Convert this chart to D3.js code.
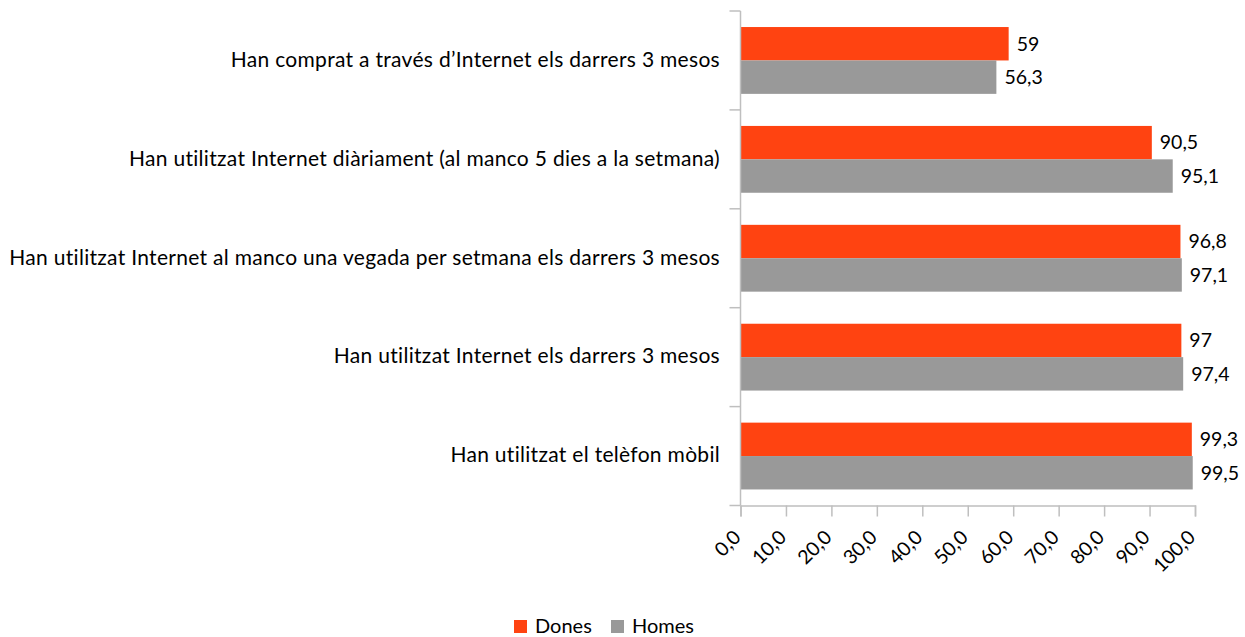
<!DOCTYPE html>
<html>
<head>
<meta charset="utf-8">
<script src="https://cdn.jsdelivr.net/npm/d3@7"></script>
<style>
  body { margin: 0; background: #fff; }
  svg text { font-family: Lato, "Open Sans", sans-serif; fill: #000; }
</style>
</head>
<body>
<svg id="chart" width="1245" height="637"></svg>
<script>
var categories = [
  "Han comprat a través d’Internet els darrers 3 mesos",
  "Han utilitzat Internet diàriament (al manco 5 dies a la setmana)",
  "Han utilitzat Internet al manco una vegada per setmana els darrers 3 mesos",
  "Han utilitzat Internet els darrers 3 mesos",
  "Han utilitzat el telèfon mòbil"
];
var seriesNames = ["Dones", "Homes"];
var dones = [59, 90.5, 96.8, 97, 99.3];
var homes = [56.3, 95.1, 97.1, 97.4, 99.5];
var xTicks = [0, 10, 20, 30, 40, 50, 60, 70, 80, 90, 100];
var colors = ["#ff4311", "#999999"];

var svg = d3.select("#chart");
var fmt = function(v){ return String(v).replace(".", ","); };

var x = d3.scaleLinear().domain([0, 100]).range([740.5, 1195]);
var y = d3.scaleBand().domain(categories).range([11, 505.5]);
var sub = d3.scaleBand().domain(seriesNames).range([0, y.bandwidth()]).paddingOuter(0.48).paddingInner(0);

var axisColor = "#bfbfbf";

// bars
var groups = svg.append("g").selectAll("g")
  .data(categories)
  .enter().append("g")
  .attr("transform", function(d){ return "translate(0," + y(d) + ")"; });

groups.each(function(c, i){
  var g = d3.select(this);
  var vals = [dones[i], homes[i]];
  seriesNames.forEach(function(s, j){
    g.append("rect")
      .attr("x", x(0))
      .attr("y", sub(s))
      .attr("width", x(vals[j]) - x(0))
      .attr("height", sub.bandwidth())
      .attr("fill", colors[j]);
    g.append("text")
      .attr("x", x(vals[j]) + 8)
      .attr("y", sub(s) + sub.bandwidth() / 2)
      .attr("dy", "0.35em")
      .attr("font-size", 19.5)
      .text(fmt(vals[j]));
  });
  g.append("text")
    .attr("x", 720)
    .attr("y", y.bandwidth() / 2)
    .attr("dy", "0.3em")
    .attr("text-anchor", "end")
    .attr("font-size", 21)
    .attr("letter-spacing", 0.3)
    .text(c);
});

// left axis line and ticks
var yLine = svg.append("g");
yLine.append("line")
  .attr("x1", x(0)).attr("x2", x(0))
  .attr("y1", 11).attr("y2", 505.5)
  .attr("stroke", axisColor).attr("stroke-width", 1.5);
var yTickPos = categories.map(function(c){ return y(c); }).concat([505.5]);
yLine.selectAll("line.t").data(yTickPos).enter().append("line")
  .attr("class", "t")
  .attr("x1", x(0) - 11).attr("x2", x(0))
  .attr("y1", function(d){ return d; }).attr("y2", function(d){ return d; })
  .attr("stroke", axisColor).attr("stroke-width", 1.5);

// bottom axis
var xAxis = d3.axisBottom(x)
  .tickValues(xTicks)
  .tickSize(11)
  .tickFormat(function(d){ return d3.format(".1f")(d).replace(".", ","); });
var gx = svg.append("g")
  .attr("transform", "translate(0,505.5)")
  .call(xAxis);
gx.select(".domain").attr("stroke", axisColor).attr("stroke-width", 1.5);
gx.selectAll(".tick line").attr("stroke", axisColor).attr("stroke-width", 1.5);
gx.selectAll(".tick text")
  .attr("font-size", 19.5)
  .attr("font-family", "Lato, 'Open Sans', sans-serif")
  .attr("text-anchor", "end")
  .attr("y", 0).attr("x", 0).attr("dy", 0)
  .attr("transform", "translate(1,33) rotate(-45)");

// legend
var legend = svg.append("g").attr("transform", "translate(514,619)");
var lx = [0, 97];
seriesNames.forEach(function(s, j){
  legend.append("rect")
    .attr("x", lx[j]).attr("y", 1)
    .attr("width", 13).attr("height", 13)
    .attr("fill", colors[j]);
  legend.append("text")
    .attr("x", lx[j] + 21).attr("y", 7)
    .attr("dy", "0.33em")
    .attr("font-size", 20)
    .text(s);
});
</script>
</body>
</html>
